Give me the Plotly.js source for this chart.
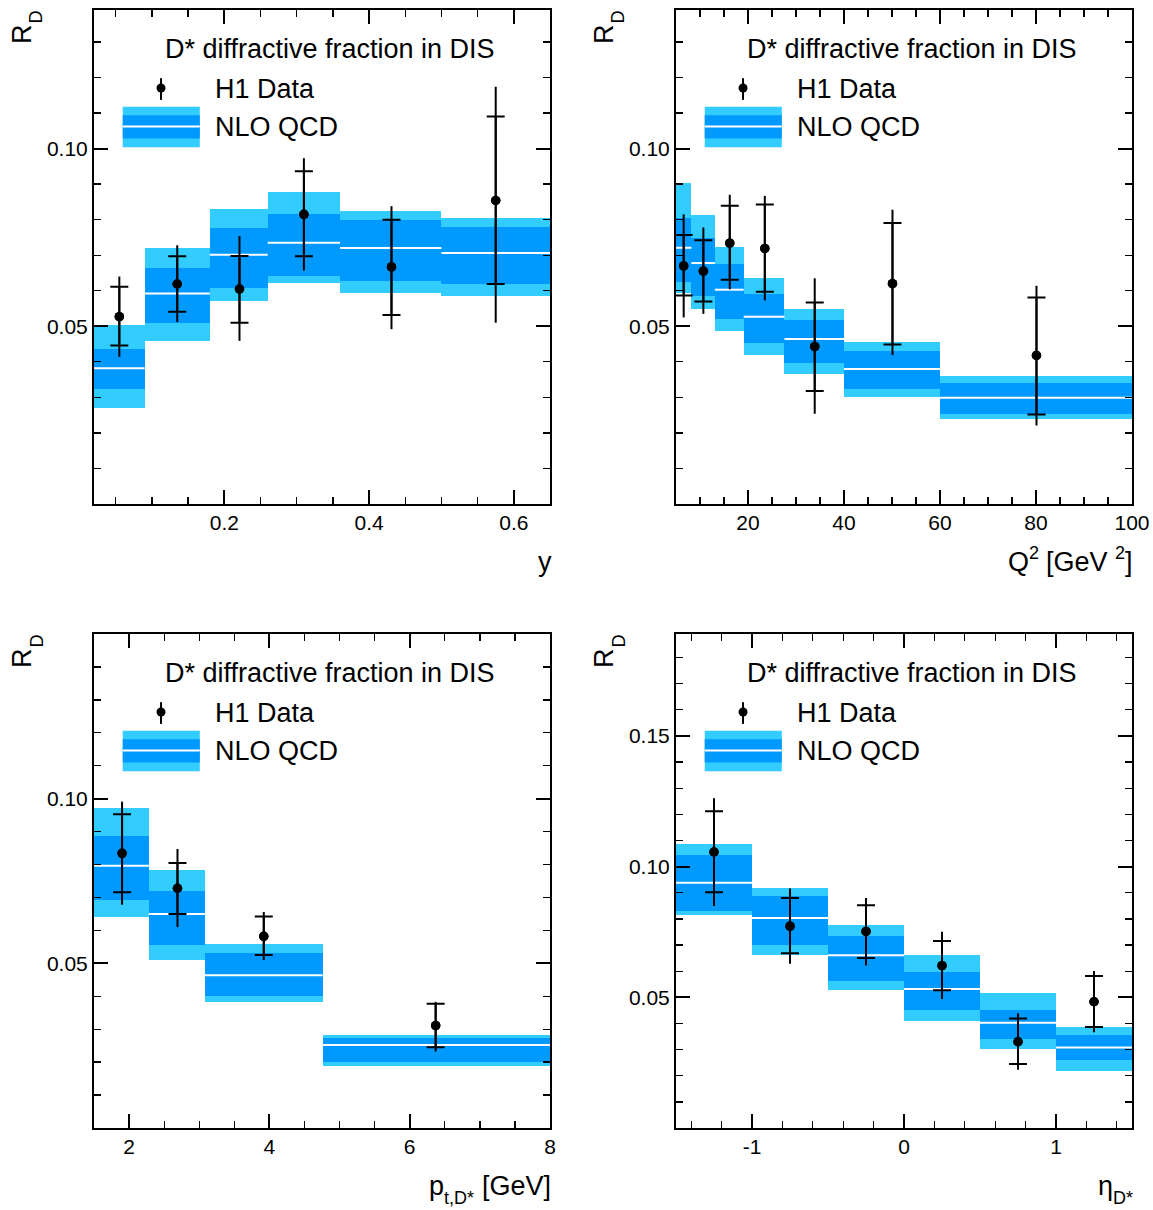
<!DOCTYPE html>
<html>
<head>
<meta charset="utf-8">
<script src="https://cdn.plot.ly/plotly-3.0.1.min.js"></script>
<style>html,body{margin:0;padding:0;background:#fff;}#chart{width:1153px;height:1210px;}</style>
</head>
<body>
<div id="chart"></div>
<script>
// ---------------- DATA ----------------
// Panel 1: y
var yBinEdges   = [0.02, 0.09, 0.18, 0.26, 0.36, 0.50, 0.65];
var yNloLightHi = [0.0505, 0.0721, 0.0830, 0.0878, 0.0825, 0.0805];
var yNloDarkHi  = [0.0435, 0.0665, 0.0778, 0.0816, 0.0799, 0.0780];
var yNloCentral = [0.0382, 0.0592, 0.0701, 0.0735, 0.0720, 0.0706];
var yNloDarkLo  = [0.0323, 0.0509, 0.0607, 0.0642, 0.0627, 0.0619];
var yNloLightLo = [0.0270, 0.0459, 0.0572, 0.0623, 0.0595, 0.0584];
var yDataX      = [0.055, 0.135, 0.221, 0.310, 0.431, 0.575];
var yDataR      = [0.0527, 0.0619, 0.0605, 0.0815, 0.0667, 0.0854];
var yStatHi     = [0.0611, 0.0697, 0.0698, 0.0936, 0.0800, 0.1090];
var yStatLo     = [0.0446, 0.0541, 0.0510, 0.0697, 0.0532, 0.0619];
var yTotHi      = [0.0640, 0.0728, 0.0754, 0.0973, 0.0838, 0.1174];
var yTotLo      = [0.0414, 0.0512, 0.0459, 0.0657, 0.0492, 0.0510];

// Panel 2: Q^2
var q2BinEdges   = [5, 8.2, 13.1, 19.1, 27.6, 40, 60, 100];
var q2NloLightHi = [0.0904, 0.0813, 0.0723, 0.0635, 0.0549, 0.0455, 0.0359];
var q2NloDarkHi  = [0.0805, 0.0749, 0.0676, 0.0591, 0.0519, 0.0431, 0.0341];
var q2NloCentral = [0.0721, 0.0678, 0.0603, 0.0527, 0.0464, 0.0380, 0.0299];
var q2NloDarkLo  = [0.0624, 0.0585, 0.0521, 0.0452, 0.0397, 0.0325, 0.0254];
var q2NloLightLo = [0.0595, 0.0548, 0.0486, 0.0419, 0.0367, 0.0301, 0.0239];
var q2DataX      = [6.6, 10.7, 16.2, 23.5, 33.9, 50.1, 80.1];
var q2DataR      = [0.0670, 0.0655, 0.0734, 0.0719, 0.0443, 0.0620, 0.0418];
var q2StatHi     = [0.0757, 0.0742, 0.0839, 0.0843, 0.0567, 0.0791, 0.0581];
var q2StatLo     = [0.0587, 0.0570, 0.0631, 0.0597, 0.0318, 0.0449, 0.0252];
var q2TotHi      = [0.0815, 0.0778, 0.0870, 0.0867, 0.0635, 0.0828, 0.0614];
var q2TotLo      = [0.0525, 0.0535, 0.0604, 0.0573, 0.0254, 0.0419, 0.0221];

// Panel 3: pt(D*)
var ptBinEdges   = [1.5, 2.28, 3.08, 4.76, 8];
var ptNloLightHi = [0.0972, 0.0784, 0.0559, 0.0281];
var ptNloDarkHi  = [0.0886, 0.0720, 0.0530, 0.0272];
var ptNloCentral = [0.0796, 0.0650, 0.0464, 0.0252];
var ptNloDarkLo  = [0.0692, 0.0557, 0.0402, 0.0200];
var ptNloLightLo = [0.0642, 0.0509, 0.0382, 0.0188];
var ptDataX      = [1.90, 2.69, 3.92, 6.37];
var ptDataR      = [0.0834, 0.0728, 0.0582, 0.0311];
var ptStatHi     = [0.0953, 0.0805, 0.0642, 0.0377];
var ptStatLo     = [0.0716, 0.0650, 0.0525, 0.0245];
var ptTotHi      = [0.0991, 0.0847, 0.0656, 0.0383];
var ptTotLo      = [0.0678, 0.0610, 0.0510, 0.0232];

// Panel 4: eta(D*)
var etaBinEdges   = [-1.5, -1.0, -0.5, 0, 0.5, 1.0, 1.5];
var etaNloLightHi = [0.1088, 0.0918, 0.0778, 0.0660, 0.0517, 0.0388];
var etaNloDarkHi  = [0.1046, 0.0889, 0.0736, 0.0595, 0.0452, 0.0357];
var etaNloCentral = [0.0938, 0.0803, 0.0661, 0.0532, 0.0403, 0.0308];
var etaNloDarkLo  = [0.0830, 0.0702, 0.0563, 0.0452, 0.0342, 0.0259];
var etaNloLightLo = [0.0814, 0.0661, 0.0527, 0.0408, 0.0304, 0.0220];
var etaDataX      = [-1.25, -0.75, -0.25, 0.25, 0.75, 1.25];
var etaDataR      = [0.1056, 0.0772, 0.0752, 0.0621, 0.0330, 0.0483];
var etaStatHi     = [0.1212, 0.0880, 0.0852, 0.0715, 0.0419, 0.0582];
var etaStatLo     = [0.0902, 0.0669, 0.0650, 0.0527, 0.0245, 0.0386];
var etaTotHi      = [0.1262, 0.0916, 0.0880, 0.0751, 0.0439, 0.0601];
var etaTotLo      = [0.0849, 0.0628, 0.0622, 0.0494, 0.0223, 0.0366];

// Tick labels
var yXTickVals   = [0.2, 0.4, 0.6];
var q2XTickVals  = [20, 40, 60, 80, 100];
var ptXTickVals  = [2, 4, 6, 8];
var etaXTickVals = [-1, 0, 1];
var etaXTickText = ['-1', '0', '1'];
var rTickVals    = [0.05, 0.10];
var rTickValsEta = [0.05, 0.10, 0.15];

// Texts (pieces: [text, role])
var legendTitle = 'D* diffractive fraction in DIS';
var legendData  = 'H1 Data';
var legendNlo   = 'NLO QCD';
var yAxisTitle  = ['R', 'D'];
var xTitles = [
  [['y', 'main']],
  [['Q', 'main'], ['2', 'sup'], [' [GeV ', 'main'], ['2', 'sup'], [']', 'main']],
  [['p', 'main'], ['t,D*', 'sub'], [' [GeV]', 'main']],
  [['\u03b7', 'main'], ['D*', 'sub']]
];

// ---------------- STYLE / LAYOUT ----------------
var W = 1153, H = 1210;
var FONT = 'Liberation Sans, Arial, Helvetica, sans-serif';
var LIGHT = '#33ccff', DARK = '#0099ff';
var TXT = 27, SUB = 18, TICK = 21;
var ROLE = {main: {size: TXT, dy: 0}, sub: {size: SUB, dy: 12}, sup: {size: SUB, dy: -9}};
var boxes = [
  {left: 94,  right: 550,  top: 10,  bottom: 504},
  {left: 676, right: 1132, top: 10,  bottom: 504},
  {left: 94,  right: 550,  top: 634, bottom: 1128},
  {left: 676, right: 1132, top: 634, bottom: 1128}
];

var panels = [
  {edges: yBinEdges, lh: yNloLightHi, dh: yNloDarkHi, c: yNloCentral, dl: yNloDarkLo, ll: yNloLightLo,
   x: yDataX, r: yDataR, sh: yStatHi, sl: yStatLo, th: yTotHi, tl: yTotLo,
   xrange: [0.02, 0.65], xtv: yXTickVals, xtt: null, xfmt: '.1f', xminor: 0.05,
   yrange: [0, 0.139], ytv: rTickVals},
  {edges: q2BinEdges, lh: q2NloLightHi, dh: q2NloDarkHi, c: q2NloCentral, dl: q2NloDarkLo, ll: q2NloLightLo,
   x: q2DataX, r: q2DataR, sh: q2StatHi, sl: q2StatLo, th: q2TotHi, tl: q2TotLo,
   xrange: [5, 100], xtv: q2XTickVals, xtt: null, xfmt: 'd', xminor: 5,
   yrange: [0, 0.139], ytv: rTickVals},
  {edges: ptBinEdges, lh: ptNloLightHi, dh: ptNloDarkHi, c: ptNloCentral, dl: ptNloDarkLo, ll: ptNloLightLo,
   x: ptDataX, r: ptDataR, sh: ptStatHi, sl: ptStatLo, th: ptTotHi, tl: ptTotLo,
   xrange: [1.5, 8], xtv: ptXTickVals, xtt: null, xfmt: 'd', xminor: 0.5,
   yrange: [0, 0.15], ytv: rTickVals},
  {edges: etaBinEdges, lh: etaNloLightHi, dh: etaNloDarkHi, c: etaNloCentral, dl: etaNloDarkLo, ll: etaNloLightLo,
   x: etaDataX, r: etaDataR, sh: etaStatHi, sl: etaStatLo, th: etaTotHi, tl: etaTotLo,
   xrange: [-1.5, 1.5], xtv: etaXTickVals, xtt: etaXTickText, xfmt: null, xminor: 0.2,
   yrange: [0, 0.189], ytv: rTickValsEta}
];

// text width measurement for composing sub/superscripts
var mctx = document.createElement('canvas').getContext('2d');
function tw(str, size) {
  mctx.font = size + 'px "Liberation Sans", Arial, sans-serif';
  return mctx.measureText(str).width;
}

var traces = [];
var layout = {
  width: W, height: H,
  margin: {l: 0, r: 0, t: 0, b: 0},
  paper_bgcolor: '#ffffff', plot_bgcolor: '#ffffff',
  showlegend: false, barmode: 'overlay', bargap: 0,
  font: {family: FONT, color: '#000', size: TICK},
  annotations: [], shapes: []
};

function txt(str, size, xpx, ypx, xanchor, yanchor, angle) {
  layout.annotations.push({xref: 'paper', yref: 'paper', x: xpx / W, y: 1 - ypx / H,
    xanchor: xanchor, yanchor: yanchor, textangle: angle || 0, showarrow: false,
    borderpad: 0, borderwidth: 0, text: str, font: {family: FONT, size: size, color: '#000'}});
}

function sub(a, b) { return a.map(function (v, i) { return v - b[i]; }); }

panels.forEach(function (p, k) {
  var n = k === 0 ? '' : String(k + 1);
  var xa = 'x' + n, ya = 'y' + n;
  var b = boxes[k];
  var centers = [], widths = [], lx = [], ly = [];
  for (var i = 0; i < p.edges.length - 1; i++) {
    centers.push((p.edges[i] + p.edges[i + 1]) / 2);
    widths.push(p.edges[i + 1] - p.edges[i]);
    lx.push(p.edges[i], p.edges[i + 1], null);
    ly.push(p.c[i], p.c[i], null);
  }
  // NLO bands
  traces.push({type: 'bar', x: centers, width: widths, base: p.ll, y: sub(p.lh, p.ll),
    xaxis: xa, yaxis: ya, marker: {color: LIGHT, line: {width: 0}}, opacity: 1, hoverinfo: 'skip'});
  traces.push({type: 'bar', x: centers, width: widths, base: p.dl, y: sub(p.dh, p.dl),
    xaxis: xa, yaxis: ya, marker: {color: DARK, line: {width: 0}}, opacity: 1, hoverinfo: 'skip'});
  traces.push({type: 'scatter', mode: 'lines', x: lx, y: ly, xaxis: xa, yaxis: ya,
    line: {color: '#ffffff', width: 2}, hoverinfo: 'skip', connectgaps: false});
  // H1 data: total error (no caps) and statistical error (caps)
  traces.push({type: 'scatter', mode: 'markers', x: p.x, y: p.r, xaxis: xa, yaxis: ya,
    marker: {color: '#000', size: 9.5},
    error_y: {type: 'data', symmetric: false, array: sub(p.th, p.r), arrayminus: sub(p.r, p.tl),
      width: 0, thickness: 2, color: '#000'}, cliponaxis: false});
  traces.push({type: 'scatter', mode: 'markers', x: p.x, y: p.r, xaxis: xa, yaxis: ya,
    marker: {color: '#000', size: 9.5},
    error_y: {type: 'data', symmetric: false, array: sub(p.sh, p.r), arrayminus: sub(p.r, p.sl),
      width: 9, thickness: 2, color: '#000'}, cliponaxis: false});

  var xaxis = {
    domain: [b.left / W, b.right / W], anchor: ya, range: p.xrange,
    showline: true, linewidth: 2, linecolor: '#000', mirror: 'ticks',
    ticks: 'inside', ticklen: 14, tickwidth: 1.8, tickcolor: '#000',
    tickmode: 'array', tickvals: p.xtv,
    minor: {ticks: 'inside', ticklen: 7, tickwidth: 1.3, tickcolor: '#000', tickmode: 'linear', tick0: 0, dtick: p.xminor, showgrid: false},
    showgrid: false, zeroline: false, fixedrange: true,
    tickfont: {family: FONT, size: TICK, color: '#000'}, ticklabelstandoff: -1
  };
  if (p.xtt) xaxis.ticktext = p.xtt; else xaxis.tickformat = p.xfmt;
  var yaxis = {
    domain: [1 - b.bottom / H, 1 - b.top / H], anchor: xa, range: p.yrange,
    showline: true, linewidth: 2, linecolor: '#000', mirror: 'ticks',
    ticks: 'inside', ticklen: 14, tickwidth: 1.8, tickcolor: '#000',
    tickmode: 'array', tickvals: p.ytv, tickformat: '.2f',
    minor: {ticks: 'inside', ticklen: 7, tickwidth: 1.3, tickcolor: '#000', tickmode: 'linear', tick0: 0, dtick: 0.01, showgrid: false},
    showgrid: false, zeroline: false, fixedrange: true,
    tickfont: {family: FONT, size: TICK, color: '#000'}
  };
  layout['xaxis' + n] = xaxis;
  layout['yaxis' + n] = yaxis;

  // y-axis title R_D (rotated, reads bottom to top, top-aligned with the frame)
  var wSubD = tw(yAxisTitle[1], SUB);
  txt(yAxisTitle[1], SUB, b.left - 58, b.top + 1, 'center', 'top', -90);
  txt(yAxisTitle[0], TXT, b.left - 72, b.top + 1 + wSubD, 'center', 'top', -90);

  // x-axis title, right-aligned with the frame, composed from pieces
  var pieces = xTitles[k];
  var yMid = b.bottom + 58;
  var total = 0;
  pieces.forEach(function (pc) { total += tw(pc[0], ROLE[pc[1]].size); });
  var xcur = b.right + 1 - total;
  pieces.forEach(function (pc) {
    var st = ROLE[pc[1]];
    var lead = pc[0].length - pc[0].replace(/^\s+/, '').length;
    var trimmed = pc[0].trim();
    var x0 = xcur + tw(pc[0].slice(0, lead), st.size);
    txt(trimmed, st.size, x0, yMid + st.dy, 'left', 'middle');
    xcur += tw(pc[0], st.size);
  });

  // legend
  var xd = xa + ' domain', yd = ya + ' domain';
  layout.annotations.push({xref: xd, yref: yd, x: 0.5175, y: 0.921, xanchor: 'center', yanchor: 'middle',
    showarrow: false, text: legendTitle, font: {family: FONT, size: TXT, color: '#000'}});
  layout.annotations.push({xref: xd, yref: yd, x: 0.262, y: 0.840, xanchor: 'left', yanchor: 'middle',
    showarrow: false, text: legendData, font: {family: FONT, size: TXT, color: '#000'}});
  layout.annotations.push({xref: xd, yref: yd, x: 0.262, y: 0.763, xanchor: 'left', yanchor: 'middle',
    showarrow: false, text: legendNlo, font: {family: FONT, size: TXT, color: '#000'}});
  layout.shapes.push({type: 'rect', xref: xd, yref: yd, x0: 0.063, x1: 0.232, y0: 0.722, y1: 0.804,
    fillcolor: LIGHT, line: {width: 0}, layer: 'above'});
  layout.shapes.push({type: 'rect', xref: xd, yref: yd, x0: 0.063, x1: 0.232, y0: 0.740, y1: 0.787,
    fillcolor: DARK, line: {width: 0}, layer: 'above'});
  layout.shapes.push({type: 'line', xref: xd, yref: yd, x0: 0.063, x1: 0.232, y0: 0.764, y1: 0.764,
    line: {color: '#ffffff', width: 2}, layer: 'above'});
  layout.shapes.push({type: 'line', xref: xd, yref: yd, x0: 0.147, x1: 0.147, y0: 0.818, y1: 0.862,
    line: {color: '#000', width: 2}, layer: 'above'});
  layout.shapes.push({type: 'circle', xref: xd, yref: yd, xsizemode: 'pixel', ysizemode: 'pixel',
    xanchor: 0.147, yanchor: 0.842, x0: -4.5, x1: 4.5, y0: -4.5, y1: 4.5,
    fillcolor: '#000', line: {width: 0}, layer: 'above'});
});

Plotly.newPlot('chart', traces, layout, {staticPlot: true, displayModeBar: false});
</script>
</body>
</html>
